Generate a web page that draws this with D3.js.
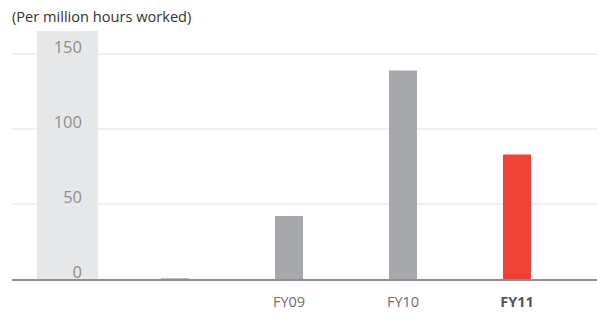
<!DOCTYPE html>
<html>
<head>
<meta charset="utf-8">
<script src="https://cdn.jsdelivr.net/npm/d3@7"></script>
<style>
  html, body { margin: 0; padding: 0; background: #fff; }
  svg { display: block; }
  text { font-family: "Open Sans", "Noto Sans", sans-serif; }
</style>
</head>
<body>
<svg id="chart" width="597" height="322"></svg>
<script>
// Lost-time injury frequency, per million hours worked
const categories = ["", "FY09", "FY10", "FY11"];
const values = [0.5, 42, 139, 83];
const highlight = "FY11";
const yTicks = [0, 50, 100, 150];
const unitLabel = "(Per million hours worked)";

const width = 597, height = 322;
const svg = d3.select("#chart");

const y = d3.scaleLinear().domain([0, 150]).range([279, 54]);
const x = d3.scaleBand()
  .domain(categories)
  .range([118, 574])
  .paddingInner(0.754)
  .paddingOuter(0.377);

// Gridlines
svg.append("g").selectAll("line")
  .data(yTicks.filter(d => d > 0))
  .join("line")
  .attr("x1", 12).attr("x2", width)
  .attr("y1", d => y(d)).attr("y2", d => y(d))
  .attr("stroke", "#e2e2e2").attr("stroke-width", 1.2);

// Shaded axis column, over the gridlines
svg.append("rect")
  .attr("x", 37).attr("y", 31)
  .attr("width", 61).attr("height", y(0) - 31)
  .attr("fill", "#e6e7e8");

// Y tick labels
svg.append("g").selectAll("text")
  .data(yTicks)
  .join("text")
  .attr("x", 82)
  .attr("y", d => y(d) - 1.5)
  .attr("text-anchor", "end")
  .attr("font-size", 16.5)
  .attr("fill", "#8f8f8f")
  .text(d => d);

// Bars
svg.append("g").selectAll("rect")
  .data(categories.map((c, i) => ({ c, v: values[i] })))
  .join("rect")
  .attr("x", d => x(d.c))
  .attr("width", x.bandwidth())
  .attr("y", d => y(d.v))
  .attr("height", d => y(0) - y(d.v))
  .attr("fill", d => d.c === highlight ? "#ef4136" : "#a7a8ab");

// Baseline
svg.append("line")
  .attr("x1", 12).attr("x2", width)
  .attr("y1", y(0) + 1).attr("y2", y(0) + 1)
  .attr("stroke", "#8e8e8e").attr("stroke-width", 2);

// Category labels
svg.append("g").selectAll("text")
  .data(categories)
  .join("text")
  .attr("x", d => x(d) + x.bandwidth() / 2)
  .attr("y", 307)
  .attr("text-anchor", "middle")
  .attr("font-size", 14.5)
  .attr("font-weight", d => d === highlight ? "bold" : "normal")
  .attr("fill", d => d === highlight ? "#555" : "#6d6d6d")
  .text(d => d);

// Unit label
svg.append("text")
  .attr("x", 12).attr("y", 22)
  .attr("font-size", 14.6)
  .attr("fill", "#333")
  .text(unitLabel);
</script>
</body>
</html>
